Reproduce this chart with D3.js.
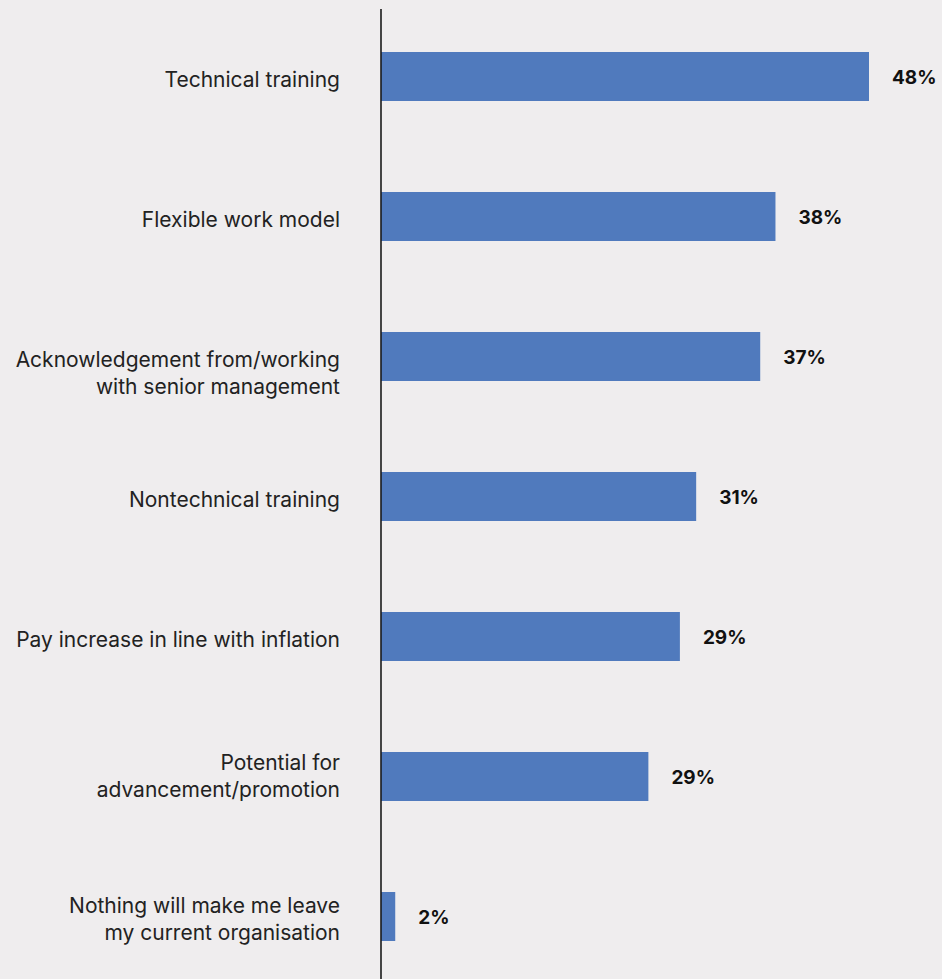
<!DOCTYPE html>
<html>
<head>
<meta charset="utf-8">
<script src="https://cdn.jsdelivr.net/npm/d3@7"></script>
<style>
  html, body { margin: 0; padding: 0; background: #efedee; }
  svg { display: block; }
</style>
</head>
<body>
<div id="chart"></div>
<script>
// categories (each line of the label is one entry)
const categories = [
  ["Technical training"],
  ["Flexible work model"],
  ["Acknowledgement from/working", "with senior management"],
  ["Nontechnical training"],
  ["Pay increase in line with inflation"],
  ["Potential for", "advancement/promotion"],
  ["Nothing will make me leave", "my current organisation"]
];
// bar lengths
const values = [48, 38.8, 37.3, 31, 29.4, 26.3, 1.4];
// labels printed next to the bars
const valueLabels = ["48%", "38%", "37%", "31%", "29%", "29%", "2%"];

const width = 942, height = 979;
const axisX = 381;

const svg = d3.select("#chart").append("svg")
  .attr("width", width)
  .attr("height", height);

const y = d3.scaleBand()
  .domain(d3.range(categories.length))
  .range([6.5, 986.5])
  .paddingInner(0.65)
  .paddingOuter(0.325);

const x = d3.scaleLinear()
  .domain([0, 48])
  .range([axisX, 869]);

// bars
svg.append("g")
  .selectAll("rect")
  .data(values)
  .join("rect")
    .attr("x", x(0))
    .attr("y", (d, i) => y(i))
    .attr("width", d => x(d) - x(0))
    .attr("height", y.bandwidth())
    .attr("fill", "#507abd");

// vertical axis line
svg.append("line")
  .attr("x1", axisX).attr("x2", axisX)
  .attr("y1", 9).attr("y2", height)
  .attr("stroke", "#1a1a1a")
  .attr("stroke-width", 1.6);

// value labels
svg.append("g")
  .selectAll("text")
  .data(values)
  .join("text")
    .attr("x", d => x(d) + 23)
    .attr("y", (d, i) => y(i) + y.bandwidth() / 2 + 1)
    .attr("dominant-baseline", "central")
    .attr("font-family", "Inter, 'Open Sans', sans-serif")
    .attr("font-weight", 700)
    .attr("font-size", 19)
    .attr("fill", "#111")
    .text((d, i) => valueLabels[i]);

// category labels
const lineH = 27;
const cat = svg.append("g")
  .selectAll("text")
  .data(categories)
  .join("text")
    .attr("text-anchor", "end")
    .attr("font-family", "Inter, 'Open Sans', sans-serif")
    .attr("font-size", 21)
    .attr("fill", "#222")
    .attr("dominant-baseline", "central")
    .attr("transform", (d, i) => {
      let cy = y(i) + y.bandwidth() / 2 + 2 - (d.length - 1) * lineH / 2;
      if (i === 2) cy += 14; // this label sits lower in the original
      if (i === 5) cy -= 3;
      return `translate(340,${cy})`;
    });

cat.selectAll("tspan")
  .data(d => d)
  .join("tspan")
    .attr("x", 0)
    .attr("dy", (d, j) => j === 0 ? 0 : lineH)
    .text(d => d);
</script>
</body>
</html>
